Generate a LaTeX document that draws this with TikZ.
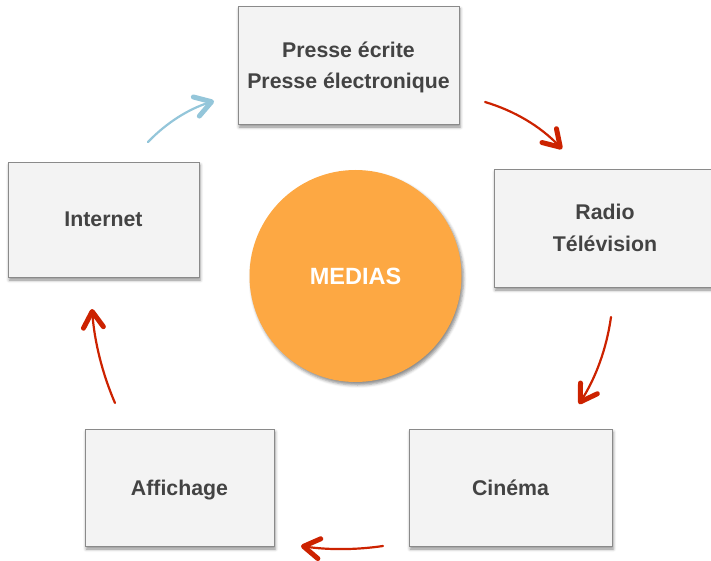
\documentclass[tikz,border=0pt]{standalone}
\usepackage{fontspec}
\setmainfont{Liberation Sans}
\usetikzlibrary{arrows.meta,shadows.blur}
\definecolor{boxfill}{HTML}{F3F3F3}
\definecolor{boxline}{HTML}{8A8A8A}
\definecolor{boxtext}{HTML}{434343}
\definecolor{medorange}{HTML}{FDA843}
\definecolor{arrred}{HTML}{CC2200}
\definecolor{arrblue}{HTML}{94C6DA}
\tikzset{
  mbox/.style={draw=boxline, line width=0.9pt, fill=boxfill, inner sep=0pt,
    text=boxtext, font=\fontsize{21.3}{31.5}\selectfont\bfseries, align=center,
    text depth=0pt,
    blur shadow={shadow xshift=1.2pt, shadow yshift=-3pt, shadow blur radius=3pt, shadow opacity=45}},
  hub/.style={circle, fill=medorange, inner sep=0pt, minimum size=212pt,
    text=white, font=\fontsize{23.5}{28}\selectfont\bfseries,
    blur shadow={shadow xshift=2pt, shadow yshift=-3pt, shadow blur radius=3pt, shadow opacity=45}},
  flow/.style={line width=2.2pt, line cap=round,
    -{Straight Barb[length=16pt, width=20pt, line width=5pt, round]}},
}
\begin{document}
\begin{tikzpicture}[x=1pt, y=-1pt]
\useasboundingbox (0,0) rectangle (711,561);
\clip (0,0) rectangle (711,561);
\node[mbox, minimum width=221pt, minimum height=118pt] (presse) at (348.5,65) {Presse écrite\\Presse électronique};
\node[mbox, minimum width=222pt, minimum height=118pt] (radio) at (605,228) {Radio\\Télévision};
\node[mbox, minimum width=191pt, minimum height=115pt] (internet) at (103.5,219.5) {Internet};
\node[mbox, minimum width=189pt, minimum height=117pt] (affichage) at (179.5,487.5) {Affichage};
\node[mbox, minimum width=203pt, minimum height=117pt] (cinema) at (510.5,487.5) {Cinéma};
\node[hub] (medias) at (355.5,276) {MEDIAS};

\coordinate (b1) at (148,142);
\coordinate (b2) at (214,101);
\coordinate (r1s) at (485,102);
\coordinate (r1e) at (562,149);
\coordinate (r2s) at (611,317);
\coordinate (r2e) at (579,404);
\coordinate (r3s) at (383,546);
\coordinate (r3e) at (301,546);
\coordinate (r4s) at (115,403);
\coordinate (r4e) at (92,309);

\draw[flow, draw=arrblue] (b1) .. controls (166.5,122.7) and (188.5,109) .. (b2);
\draw[flow, draw=arrred] (r1s) .. controls (514.8,110.9) and (540.5,126.5) .. (r1e);
\draw[flow, draw=arrred] (r2s) .. controls (606.6,348.3) and (596,377.3) .. (r2e);
\draw[flow, draw=arrred] (r3s) .. controls (355.7,550) and (328.3,550) .. (r3e);
\draw[flow, draw=arrred] (r4s) .. controls (102.1,373) and (94.5,341.7) .. (r4e);
\end{tikzpicture}
\end{document}
